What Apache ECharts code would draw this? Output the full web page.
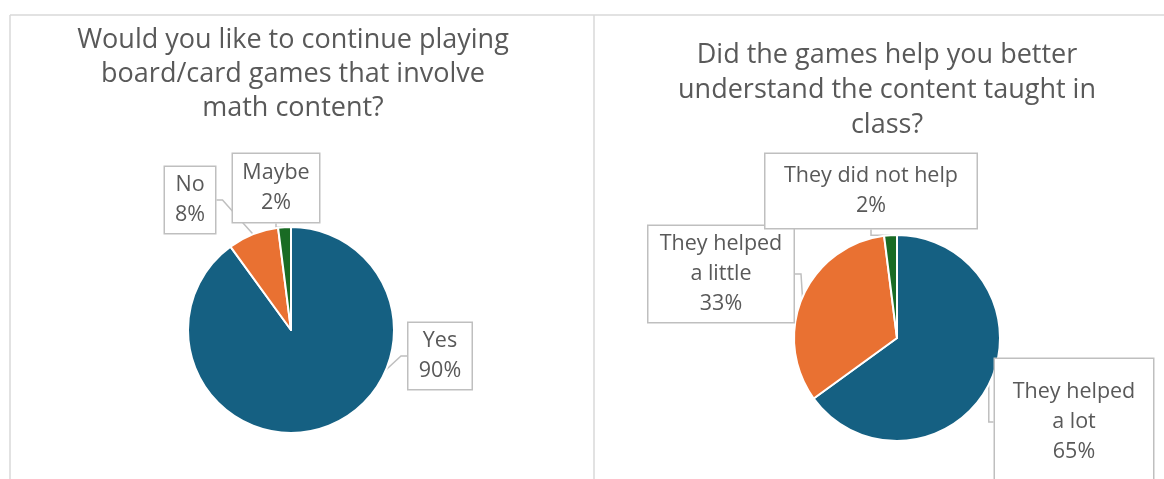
<!DOCTYPE html>
<html>
<head>
<meta charset="utf-8">
<script src="https://cdn.jsdelivr.net/npm/echarts@6/dist/echarts.min.js"></script>
<style>html,body{margin:0;padding:0;background:#fff}#c{width:1164px;height:479px}</style>
</head>
<body>
<div id="c"></div>
<script>
// ---- data ----
const titleLeft = "Would you like to continue playing\nboard/card games that involve\nmath content?";
const titleRight = "Did the games help you better\nunderstand the content taught in\nclass?";
const catsLeft = ["Yes", "No", "Maybe"];
const valsLeft = [90, 8, 2];
const catsRight = ["They helped a lot", "They helped a little", "They did not help"];
const labelTextRight = ["They helped\na lot", "They helped\na little", "They did not help"];
const valsRight = [65, 33, 2];

// ---- style ----
const COLORS = ['#156082', '#E97132', '#196B24'];
const FONT = '"Open Sans", sans-serif';
const TXT = '#595959';
const BOX = '#BFBFBF';

// label box layout (center x, center y, content width, vertical padding)
const boxLeft = [
  {x: 440, y: 356, w: 63, vp: 3},
  {x: 190, y: 200, w: 50, vp: 3},
  {x: 276, y: 188, w: 86, vp: 4}
];
const boxRight = [
  {x: 1074, y: 422, w: 158, vp: 18},
  {x: 721, y: 274, w: 145, vp: 3},
  {x: 871, y: 191, w: 211, vp: 7}
];

function mkData(cats, vals, boxes, texts) {
  return cats.map((c, i) => ({
    name: c,
    value: vals[i],
    itemStyle: {color: COLORS[i]},
    label: {width: boxes[i].w, padding: [boxes[i].vp, 0], formatter: (texts ? texts[i] : c) + '\n{d}%'}
  }));
}

function pieSeries(center, r, cats, vals, boxes, texts) {
  return {
    type: 'pie',
    center: center,
    radius: r,
    startAngle: 90,
    clockwise: true,
    percentPrecision: 0,
    animation: false,
    itemStyle: {borderColor: '#fff', borderWidth: 2},
    label: {
      show: true,
      position: 'outside',
      color: TXT,
      fontFamily: FONT,
      fontSize: 21.5,
      lineHeight: 30,
      align: 'center',
      backgroundColor: '#fff',
      borderColor: BOX,
      borderWidth: 1.5
    },
    labelLine: {show: true, length: 6, length2: 6, lineStyle: {color: BOX, width: 1.5}},
    labelLayout: function (p) {
      const b = boxes[p.dataIndex];
      return {x: b.x, y: b.y, align: 'center', verticalAlign: 'middle'};
    },
    emphasis: {disabled: true},
    data: mkData(cats, vals, boxes, texts)
  };
}

const chart = echarts.init(document.getElementById('c'), null, {renderer: 'canvas'});
chart.setOption({
  backgroundColor: '#fff',
  title: [
    {text: titleLeft, left: 288, top: 18, textAlign: 'center',
     textStyle: {color: TXT, fontFamily: FONT, fontWeight: 'normal', fontSize: 27, lineHeight: 34}},
    {text: titleRight, left: 882, top: 32.5, textAlign: 'center',
     textStyle: {color: TXT, fontFamily: FONT, fontWeight: 'normal', fontSize: 27, lineHeight: 35}}
  ],
  graphic: [
    {type: 'line', shape: {x1: 10, y1: 15, x2: 1164, y2: 15}, style: {stroke: '#D9D9D9', lineWidth: 1.5}, silent: true},
    {type: 'line', shape: {x1: 10, y1: 15, x2: 10, y2: 479}, style: {stroke: '#D9D9D9', lineWidth: 1.5}, silent: true},
    {type: 'line', shape: {x1: 594, y1: 15, x2: 594, y2: 479}, style: {stroke: '#D9D9D9', lineWidth: 1.5}, silent: true}
  ],
  series: [
    pieSeries([291, 330], 103, catsLeft, valsLeft, boxLeft, null),
    pieSeries([897, 338], 103, catsRight, valsRight, boxRight, labelTextRight)
  ]
});
</script>
</body>
</html>
